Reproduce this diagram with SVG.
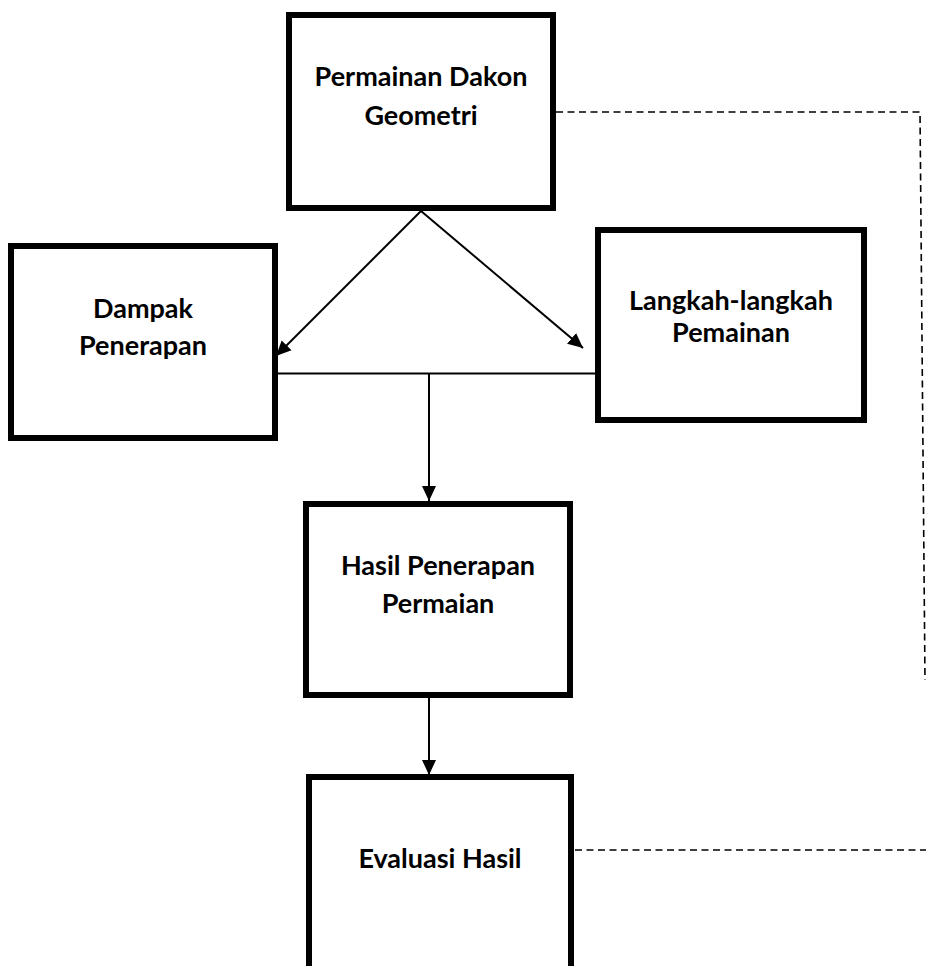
<svg xmlns="http://www.w3.org/2000/svg" width="926" height="966" viewBox="0 0 926 966">
<style>
.box{fill:#fff;stroke:#000;stroke-width:6}
.lbl{font-family:Lato,"Open Sans","Liberation Sans",sans-serif;font-weight:bold;font-size:27px;fill:#000;text-anchor:middle}
.con{fill:none;stroke:#000;stroke-width:2}
.dash{fill:none;stroke:#000;stroke-width:1.6;stroke-dasharray:7 4.5}
</style>
<defs>
<marker id="arr" markerUnits="userSpaceOnUse" markerWidth="16" markerHeight="16" viewBox="0 0 16 16" refX="15" refY="8" orient="auto">
<path d="M0,1 L15,8 L0,15 Z" fill="#000"/>
</marker>
</defs>
<rect width="926" height="966" fill="#fff"/>
<g id="connectors">
<line class="con" x1="421" y1="211" x2="276" y2="356" marker-end="url(#arr)"/>
<line class="con" x1="421" y1="211" x2="583" y2="348" marker-end="url(#arr)"/>
<line class="con" x1="278" y1="373.5" x2="595" y2="373.5"/>
<line class="con" x1="429" y1="373.5" x2="429" y2="501" marker-end="url(#arr)"/>
<line class="con" x1="429" y1="698" x2="429" y2="775" marker-end="url(#arr)"/>
<polyline class="dash" points="556,112 920,112 925,680"/>
<line class="dash" x1="575" y1="850" x2="926" y2="850"/>
</g>
<g id="node-permainan">
<rect class="box" x="289" y="15" width="264" height="193"/>
<text class="lbl" x="421" y="86">Permainan Dakon</text>
<text class="lbl" x="421" y="125">Geometri</text>
</g>
<g id="node-dampak">
<rect class="box" x="11" y="246" width="264" height="192"/>
<text class="lbl" x="143" y="318">Dampak</text>
<text class="lbl" x="143" y="355">Penerapan</text>
</g>
<g id="node-langkah">
<rect class="box" x="598" y="230" width="266" height="190"/>
<text class="lbl" x="731" y="310">Langkah-langkah</text>
<text class="lbl" x="731" y="342">Pemainan</text>
</g>
<g id="node-hasil">
<rect class="box" x="306" y="504" width="264" height="191"/>
<text class="lbl" x="438" y="575">Hasil Penerapan</text>
<text class="lbl" x="438" y="613">Permaian</text>
</g>
<g id="node-evaluasi">
<rect class="box" x="309" y="777" width="262" height="200"/>
<text class="lbl" x="440" y="868">Evaluasi Hasil</text>
</g>
</svg>
